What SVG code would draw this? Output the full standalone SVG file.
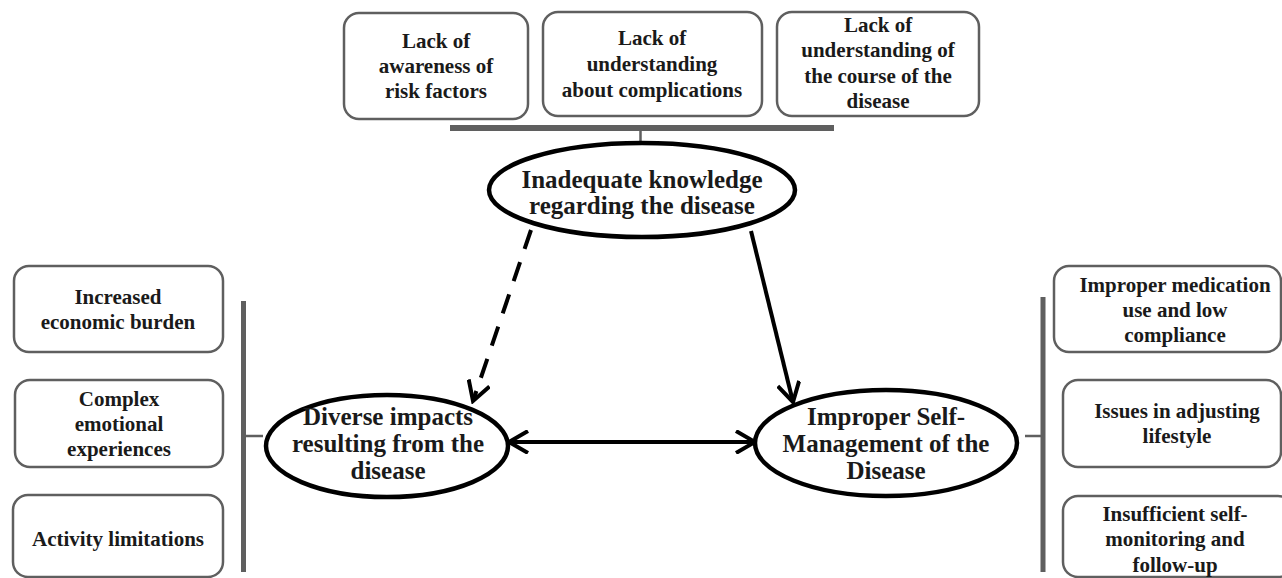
<svg xmlns="http://www.w3.org/2000/svg" width="1282" height="578" viewBox="0 0 1282 578">
<defs>
<style>
.box{fill:#fff;stroke:#5f5f5f;stroke-width:2.5}
.ell{fill:#fff;stroke:#000;stroke-width:4.5}
.bar{stroke:#5f5f5f;fill:none}
.t{font-family:"Liberation Serif","Times New Roman",serif;font-weight:bold;font-size:21px;fill:#1a1a1a;text-anchor:middle}
.te{font-family:"Liberation Serif","Times New Roman",serif;font-weight:bold;font-size:25px;fill:#1a1a1a;text-anchor:middle}
.arr{stroke:#000;stroke-width:4;fill:none}
</style>
<marker id="vh" viewBox="0 0 24 24" refX="21" refY="12" markerWidth="24" markerHeight="24" markerUnits="userSpaceOnUse" orient="auto-start-reverse">
<path d="M2,1 L21,12 L2,23" fill="none" stroke="#000" stroke-width="4" stroke-linejoin="miter"/>
</marker>
</defs>
<rect width="1282" height="578" fill="#fff"/>

<g id="connectors">
<line class="bar" x1="450" y1="128" x2="834" y2="128" stroke-width="6"/>
<line class="bar" x1="640.5" y1="131" x2="640.5" y2="144" stroke-width="2.5"/>
<line class="bar" x1="243.5" y1="301" x2="243.5" y2="572" stroke-width="5"/>
<line class="bar" x1="246" y1="436" x2="263" y2="436" stroke-width="2.5"/>
<line class="bar" x1="1043" y1="297" x2="1043" y2="572" stroke-width="5"/>
<line class="bar" x1="1025" y1="436" x2="1041" y2="436" stroke-width="2.5"/>
<line class="arr" x1="531" y1="230" x2="473" y2="401" stroke-dasharray="20 14" stroke-width="4.5" marker-end="url(#vh)"/>
<line class="arr" x1="751" y1="231" x2="793" y2="402" marker-end="url(#vh)"/>
<line class="arr" x1="509" y1="442" x2="755" y2="442" marker-start="url(#vh)" marker-end="url(#vh)"/>
</g>

<g id="risk-factors">
<rect class="box" x="344" y="13" width="184" height="106" rx="15"/>
<text class="t" x="436" y="48">Lack of</text>
<text class="t" x="436" y="73">awareness of</text>
<text class="t" x="436" y="98">risk factors</text>
</g>
<g id="complications">
<rect class="box" x="543" y="12" width="219" height="104" rx="15"/>
<text class="t" x="652" y="45">Lack of</text>
<text class="t" x="652" y="71">understanding</text>
<text class="t" x="652" y="97">about complications</text>
</g>
<g id="course">
<rect class="box" x="777" y="12" width="202" height="104" rx="15"/>
<text class="t" x="878" y="32">Lack of</text>
<text class="t" x="878" y="57">understanding of</text>
<text class="t" x="878" y="83">the course of the</text>
<text class="t" x="878" y="108">disease</text>
</g>

<g id="knowledge">
<ellipse class="ell" cx="642" cy="190" rx="153" ry="47"/>
<text class="te" x="642" y="188">Inadequate knowledge</text>
<text class="te" x="642" y="214">regarding the disease</text>
</g>

<g id="impacts">
<ellipse class="ell" cx="387" cy="446" rx="121" ry="51"/>
<text class="te" x="388" y="425">Diverse impacts</text>
<text class="te" x="388" y="452">resulting from the</text>
<text class="te" x="388" y="479">disease</text>
</g>

<g id="self-management">
<ellipse class="ell" cx="886" cy="443" rx="131" ry="53"/>
<text class="te" x="886" y="425">Improper Self-</text>
<text class="te" x="886" y="452">Management of the</text>
<text class="te" x="886" y="479">Disease</text>
</g>

<g id="economic">
<rect class="box" x="14" y="266" width="209" height="86" rx="15"/>
<text class="t" x="118" y="304">Increased</text>
<text class="t" x="118" y="329">economic burden</text>
</g>
<g id="emotional">
<rect class="box" x="15" y="380" width="208" height="87" rx="15"/>
<text class="t" x="119" y="406">Complex</text>
<text class="t" x="119" y="431">emotional</text>
<text class="t" x="119" y="456">experiences</text>
</g>
<g id="activity">
<rect class="box" x="13" y="495" width="210" height="82" rx="15"/>
<text class="t" x="118" y="546">Activity limitations</text>
</g>

<g id="medication">
<rect class="box" x="1054" y="266" width="227" height="86" rx="15"/>
<text class="t" x="1175" y="292">Improper medication</text>
<text class="t" x="1175" y="317">use and low</text>
<text class="t" x="1175" y="342">compliance</text>
</g>
<g id="lifestyle">
<rect class="box" x="1063" y="380" width="218" height="87" rx="15"/>
<text class="t" x="1177" y="418">Issues in adjusting</text>
<text class="t" x="1177" y="443">lifestyle</text>
</g>
<g id="monitoring">
<rect class="box" x="1063" y="496" width="230" height="81" rx="15"/>
<text class="t" x="1175" y="521">Insufficient self-</text>
<text class="t" x="1175" y="546">monitoring and</text>
<text class="t" x="1175" y="572">follow-up</text>
</g>
</svg>
